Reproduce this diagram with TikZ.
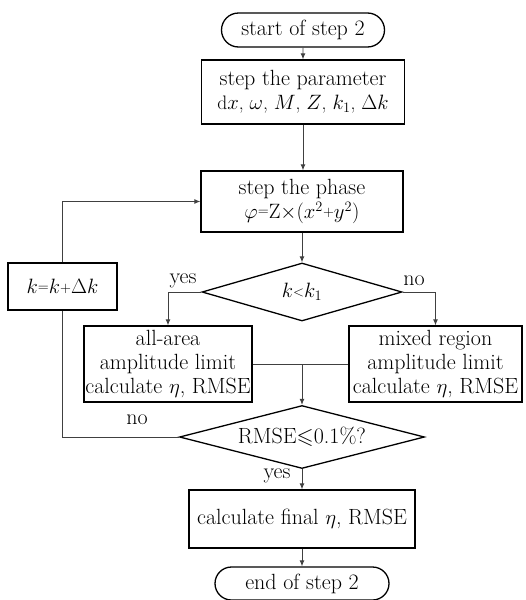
\documentclass[tikz,border=0pt]{standalone}
\usepackage{amssymb}
\usetikzlibrary{shapes.geometric,shapes.misc,arrows.meta}
\newcommand{\sy}[1]{\mathord{\vcenter{\hbox{\fontsize{15.5}{16}\selectfont$#1$}}}}
\newcommand{\mfont}{\fontsize{19.5}{24}\selectfont}
\tikzset{
  txt/.style={font=\fontsize{22}{24}\selectfont},
  procbox/.style={txt,draw,line width=1.3pt,rectangle,align=center,inner sep=0pt},
  termbox/.style={txt,draw,line width=1.3pt,rounded rectangle,inner sep=0pt},
  decbox/.style={txt,draw,line width=1.3pt,diamond,inner sep=0pt,aspect=3},
  flow/.style={line width=0.9pt,draw=black!75},
  arr/.style={flow,-{Latex[length=6pt,width=5pt]}},
  lbl/.style={txt,inner sep=0pt}
}
\begin{document}
\begin{tikzpicture}[x=1pt,y=-1pt]
\useasboundingbox (0,0) rectangle (526,600);
% khối chính
\node[termbox,minimum width=163pt,minimum height=34pt] (start) at (303,30) {start of step 2};
\node[procbox,minimum width=203pt,minimum height=64pt] (param) at (303,92) {step the parameter\\{\mfont d$x$, $\omega$, $M$, $Z$, $k_1$, $\Delta k$}};
\node[procbox,minimum width=202pt,minimum height=61pt] (phase) at (302,201.5) {step the phase\\{\mfont $\varphi\sy{=}\mathrm{Z}{\times}(x^2\sy{+}y^2)$}};
\node[decbox,minimum width=200pt,minimum height=58pt] (kcmp) at (302,292) {\mfont $k\sy{<}k_1$};
\node[procbox,minimum width=109pt,minimum height=47pt] (kstep) at (62.5,286.5) {\mfont $k\sy{=}k\sy{+}\Delta k$};
\node[procbox,minimum width=168pt,minimum height=76pt] (allarea) at (168,364) {all-area\\amplitude limit\\calculate $\eta$, RMSE};
\node[procbox,minimum width=173pt,minimum height=76pt] (mixed) at (435.5,364) {mixed region\\amplitude limit\\calculate $\eta$, RMSE};
\node[decbox,minimum width=245pt,minimum height=63pt] (rmse) at (302,437) {RMSE$\leqslant$0.1\%?};
\node[procbox,minimum width=226pt,minimum height=58pt] (final) at (302,519) {calculate final $\eta$, RMSE};
\node[termbox,minimum width=174pt,minimum height=33pt] (stop) at (302,583.5) {end of step 2};
% nhãn
\node[lbl] (yes1) at (183,281) {yes};
\node[lbl] (no1) at (414,281) {no};
\node[lbl] (no2) at (137,420) {no};
\node[lbl] (yes2) at (277,476) {yes};
% đường nối
\draw[arr] (start)--(param);
\draw[arr] (param.south)--(param.south |- phase.north);
\draw[arr] (phase)--(kcmp);
\draw[arr] (kcmp.west)-|(allarea.north);
\draw[arr] (kcmp.east)-|(mixed.north);
\coordinate (merge) at (allarea.east -| rmse.north);
\draw[flow] (allarea.east)--(mixed.west);
\draw[arr] (merge)--(rmse.north);
\draw[flow] (rmse.west)-|(kstep.south);
\draw[arr] (kstep.north)|-(phase.west);
\draw[arr] (rmse.south)--(final.north);
\draw[arr] (final.south)--(stop.north);
\end{tikzpicture}
\end{document}
